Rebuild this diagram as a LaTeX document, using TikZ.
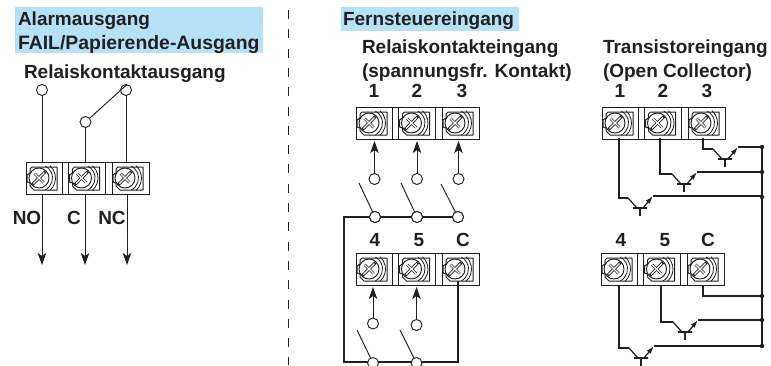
\documentclass[tikz,border=0pt]{standalone}
\usepackage{fontspec}
\setmainfont{Liberation Sans}
\usetikzlibrary{arrows.meta,calc}
\definecolor{hl}{HTML}{B5E2F9}
\definecolor{ink}{HTML}{231F20}
\tikzset{
  lbl/.style={anchor=base west,inner sep=0pt,outer sep=0pt,text=ink,font=\fontsize{19}{19}\selectfont\bfseries},
  lblw/.style={lbl,font=\fontsize{19.4}{19}\selectfont\bfseries},
  num/.style={anchor=base,inner sep=0pt,outer sep=0pt,text=ink,font=\fontsize{19}{19}\selectfont\bfseries},
  wire/.style={draw=ink,line width=0.95pt},
  wireb/.style={draw=ink,line width=1.25pt},
  thick wire/.style={draw=ink,line width=2.1pt},
  arr/.style={draw=ink,line width=0.95pt,-{Stealth[length=12pt,width=8.5pt,inset=3pt]}},
  emit/.style={draw=ink,line width=1.25pt,-{Latex[length=8pt,width=5pt]}},
  ring/.style={circle,draw=ink,fill=white,line width=0.95pt,minimum size=11pt,inner sep=0pt,outer sep=0pt},
  rail dot/.style={circle,fill=ink,minimum size=4.5pt,inner sep=0pt,outer sep=0pt},
  cell/.style={anchor=north west,minimum width=36pt,minimum height=32pt,inner sep=0pt,outer sep=0pt},
  tbframe/.style={anchor=north west,draw=ink,line width=0.8pt,minimum width=123pt,minimum height=32pt,inner sep=0pt,outer sep=0pt},
  bar/.style={draw=ink,line width=1.25pt,minimum width=14pt,minimum height=0pt,inner sep=0pt,outer sep=0pt},
}
\newcommand{\myscrew}[2]{%
  \begin{scope}[shift={(#1,#2)}]
    \draw[ink,line width=1pt,line join=round] (6,5)--(31,5)--(31,28)--(8,28)--(4,24)--(4,21)--(1,20)--(1,13)--(4,11)--(4,7)--cycle;
    \draw[ink,line width=0.95pt,fill=white] (13,16) circle[radius=10pt];
    \draw[ink,line width=0.8pt] (13,16) ++(-62:13.5pt) arc[start angle=-62,end angle=62,radius=13.5pt];
    \draw[ink,line width=0.8pt] (13,16) ++(-48:16.5pt) arc[start angle=-48,end angle=48,radius=16.5pt];
    \draw[ink,line width=3pt] (6.5,22.5)--(19.5,9.5);
    \draw[ink,line width=2.6pt] (8.5,11.5)--(17.5,20.5);
    \draw[white,line width=1.1pt] (8.5,11.5)--(17.5,20.5);
    \draw[white,line width=1.2pt] (7.5,21.5)--(18.5,10.5);
  \end{scope}}
\newcommand{\myblock}[3]{%
  \node[tbframe] (#1) at (#2,#3) {};
  \node[cell] (#11) at (#2,#3) {};
  \node[cell,minimum width=37pt] (#12) at ($(#2,#3)+(42.5,0)$) {};
  \node[cell,minimum width=37pt] (#13) at ($(#2,#3)+(86,0)$) {};
  \foreach \dx in {36,42.5,79.5,86}{\draw[ink,line width=0.7pt] ($(#2,#3)+(\dx,0)$)--++(0,32);}
  \myscrew{#2}{#3}
  \myscrew{#2+42.5}{#3}
  \myscrew{#2+86}{#3}}
\newcommand{\mytrans}[3]{%
  \node[bar] (#1) at (#2,#3) {};
  \coordinate (#1c) at (#2-12,#3-10);
  \coordinate (#1e) at (#2+13,#3-12);
  \coordinate (#1ci) at (#2-3,#3);
  \coordinate (#1ei) at (#2+3,#3);
  \coordinate (#1s) at (#2,#3+8);
  \draw[wireb] (#1c)--(#1ci);
  \draw[wireb] (#1)--(#1s);
  \draw[emit] (#1ei)--(#1e);}
\begin{document}
\begin{tikzpicture}[x=1pt,y=-1pt]
\useasboundingbox (0,0) rectangle (771,365);
\fill[white] (0,0) rectangle (771,365);
% highlights
\fill[hl] (15,7) rectangle (263,53);
\fill[hl] (341,7) rectangle (519,31);
% divider
\coordinate (divtop) at (288,10);
\coordinate (divbot) at (288,365);
\draw[ink,line width=1pt,dash pattern=on 9pt off 10.3pt] (divtop)--(divbot);
% headings
\node[lbl] (h1) at (18,25) {Alarmausgang};
\node[lblw] (h2) at (18,49) {FAIL/Papierende-Ausgang};
\node[lbl] (h3) at (24,78) {Relaiskontaktausgang};
\node[lbl] (h4) at (343,25) {Fernsteuereingang};
\node[lbl] (h5) at (362,53) {Relaiskontakteingang};
\node[lbl] (h6) at (362,77) {(spannungsfr. Kontakt)};
\node[lbl] (h7) at (603,53) {Transistoreingang};
\node[lbl] (h8) at (603,77) {(Open Collector)};
\foreach \n/\t/\x in {na/1/374,nb/2/417,nc/3/462,nd/1/620,ne/2/663,nf/3/707}{\node[num] (\n) at (\x,97) {\t};}
\foreach \n/\t/\x in {ng/4/375,nh/5/419,ni/C/463,nj/4/621,nk/5/665,nl/C/708}{\node[num] (\n) at (\x,246) {\t};}
\node[num] (lno) at (27,224) {NO};
\node[num] (lc) at (74,224) {C};
\node[num] (lnc) at (112,224) {NC};
% blocks
\myblock{A}{26}{162}
\myblock{B}{356}{107}
\myblock{C}{356}{253}
\myblock{D}{602}{107}
\myblock{E}{601}{253}
% left part
\node[ring] (a1) at (42,90) {};
\node[ring] (a2) at (85.5,122) {};
\node[ring] (a3) at (126,90) {};
\coordinate (a3t) at (127,84.5);
\coordinate (e1) at (42,265);
\coordinate (e2) at (85,265);
\coordinate (e3) at (127,265);
\draw[wire] (a1)--(a1|-A.north);
\draw[wire] (a2)--(a2|-A.north);
\draw[wire] (a3)--(a3|-A.north);
\draw[wire] (a2)--(a3t);
\draw[arr] (e1|-A.south)--(e1);
\draw[arr] (e2|-A.south)--(e2);
\draw[arr] (e3|-A.south)--(e3);
% middle upper
\foreach \n/\x in {1/374.5,2/417,3/458.5}{
  \node[ring] (b\n) at (\x,179) {};
  \coordinate (tip\n) at (\x,141);
  \draw[arr] (b\n)--(tip\n);
}
\foreach \n/\x in {1/375,2/417,3/458}{\node[ring] (s\n) at (\x,217) {};}
\coordinate (u1) at (359,183);
\coordinate (u2) at (401,183);
\coordinate (u3) at (441,184);
% middle lower
\node[ring] (l1) at (373,323.5) {};
\node[ring] (l2) at (416.5,325) {};
\coordinate (tip4) at (373,287);
\coordinate (tip5) at (416.5,287);
\coordinate (v1) at (357,330);
\coordinate (v2) at (400,330);
\coordinate (cnr1) at (344,217);
\coordinate (cnr2) at (344,362);
\coordinate (cnr3) at (458,362);
\draw[thick wire,line join=miter] (s1)--(cnr1)--(cnr2)--(cnr3)--(cnr3|-C.south)--++(0,-4);
\draw[thick wire] (s1)--(s2);
\draw[thick wire] (s2)--(s3);
\node[ring] (s4) at (373,363) {};
\node[ring] (s5) at (416.5,363) {};
\foreach \n in {1,2,3}{\node[ring] at (s\n) {};}
\draw[wire] (u1)--(s1);
\draw[wire] (u2)--(s2);
\draw[wire] (u3)--(s3);
\draw[wire] (v1)--(s4);
\draw[wire] (v2)--(s5);
\draw[arr] (l1)--(tip4);
\draw[arr] (l2)--(tip5);
% right: rail and dots
\node[rail dot] (d1) at (762,147) {};
\node[rail dot] (d2) at (762,172) {};
\node[rail dot] (d3) at (762,197) {};
\node[rail dot] (d4) at (762,296) {};
\node[rail dot] (d5) at (762,320) {};
\node[rail dot] (d6) at (762,346) {};
\draw[wireb] (d1)--(d6);
\mytrans{q}{725}{159}
\mytrans{r}{684}{184}
\mytrans{p}{640}{208}
\mytrans{m}{685}{332}
\mytrans{k}{641}{358}
\coordinate (w1) at (619,138);
\coordinate (w2) at (660,138);
\coordinate (w3) at (703,138);
\coordinate (w4) at (619,285);
\coordinate (w5) at (661,285);
\coordinate (w6) at (703,285);
\draw[wireb] (w3)|-(qc);
\draw[wireb] (w2)|-(rc);
\draw[wireb] (w1)|-(pc);
\draw[wireb] (w5)|-(mc);
\draw[wireb] (w4)|-(kc);
\draw[wireb] (w6)|-(d4);
\draw[wireb] (qe)--(qe-|d1);
\draw[wireb] (re)--(d2);
\draw[wireb] (pe)--(pe-|d3);
\draw[wireb] (me)--(d5);
\draw[wireb] (ke)--(d6);
\end{tikzpicture}
\end{document}
